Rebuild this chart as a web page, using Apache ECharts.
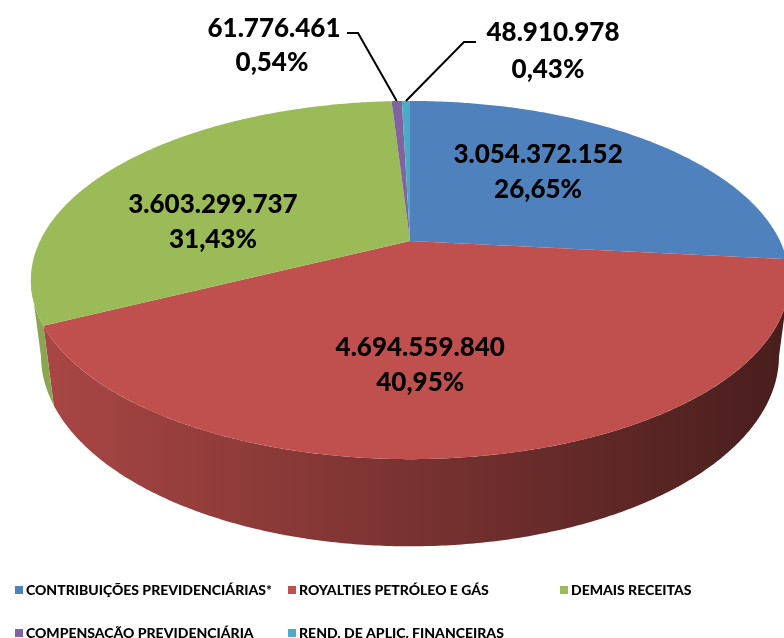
<!DOCTYPE html>
<html>
<head>
<meta charset="utf-8">
<script src="https://cdn.jsdelivr.net/npm/echarts@6/dist/echarts.min.js"></script>
<style>
html,body{margin:0;padding:0;background:#fff;}
#chart{width:784px;height:638px;}
</style>
</head>
<body>
<div id="chart"></div>
<script>
// ---- data ----
const categories = [
  'CONTRIBUIÇÕES PREVIDENCIÁRIAS*',
  'ROYALTIES PETRÓLEO E GÁS',
  'DEMAIS RECEITAS',
  'COMPENSAÇÃO PREVIDENCIÁRIA',
  'REND. DE APLIC. FINANCEIRAS'
];
const values = [3054372152, 4694559840, 3603299737, 61776461, 48910978];
const valueLabels = ['3.054.372.152', '4.694.559.840', '3.603.299.737', '61.776.461', '48.910.978'];
const percentLabels = ['26,65%', '40,95%', '31,43%', '0,54%', '0,43%'];

// ---- style ----
const colors = ['#4F81BD', '#C0504D', '#9BBB59', '#8064A2', '#4BACC6'];
const wallColors = [
  ['#3E6696', '#2A4468'],
  ['#A84644', '#481E1D'],
  ['#8AA650', '#5E7236'],
  ['#654F81', '#45365A'],
  ['#3B889C', '#285C6A']
];
// label placement (offsets in px relative to projected mid-angle point; outside labels use anchors)
const labelOffsets = [[0, -16], [-27, 30], [-45, 21], null, null];
const outsideLabels = {
  3: { text: [274, 29, 272, 63], line: [[347, 33], [358, 33]] },
  4: { text: [553, 33, 548, 70], line: [[476, 42], [464, 42]] }
};

const chart = echarts.init(document.getElementById('chart'));

const cx = 410, cy = 241, f = 1506, D = 4.07;
const s = 0.461, c = Math.sqrt(1 - s * s), h = 0.232;
const total = values.reduce((a, b) => a + b, 0);
const starts = [];
{ let acc = 0; values.forEach(v => { starts.push(acc / total * 360); acc += v; }); }

function proj(phiDeg, r, y) {
  const p = phiDeg * Math.PI / 180;
  const x = r * Math.sin(p), z = -r * Math.cos(p);
  const Yc = y * c - z * s, Zc = y * s + z * c;
  const depth = D - Zc;
  return [cx + f * x / depth, cy - f * Yc / depth];
}
const phiS = Math.acos(-c / D) * 180 / Math.PI;

function arc(a, b, r, y) {
  const pts = [];
  const n = Math.max(2, Math.ceil(Math.abs(b - a) / 0.5));
  for (let i = 0; i <= n; i++) pts.push(proj(a + (b - a) * i / n, r, y));
  return pts;
}

const font = 'Lato, "Open Sans", sans-serif';
const labelFont = '900 26px ' + font;

function renderSlice(i) {
  return function (params, api) {
    const v = api.value(0);
    const a = starts[i], b = a + v / total * 360;
    const children = [];
    // wall
    const wa = Math.max(a, phiS), wb = Math.min(b, 360 - phiS);
    if (wb > wa) {
      const top = arc(wa, wb, 1, 0);
      const bot = arc(wb, wa, 1, -h);
      children.push({
        type: 'polygon', z2: 1,
        shape: { points: top.concat(bot) },
        style: {
          fill: new echarts.graphic.LinearGradient(48, 0, 784, 0, [
            { offset: 0, color: wallColors[i][0] },
            { offset: 1, color: wallColors[i][1] }
          ], true)
        }
      });
    }
    // top face
    children.push({
      type: 'polygon', z2: 10,
      shape: { points: [proj(0, 0, 0)].concat(arc(a, b, 1, 0)) },
      style: { fill: colors[i] }
    });
    // labels
    const mid = (a + b) / 2;
    if (labelOffsets[i]) {
      const p = proj(mid, 0.5, 0);
      const x = p[0] + labelOffsets[i][0], y = p[1] + labelOffsets[i][1];
      children.push({
        type: 'text', z2: 20,
        style: {
          x: x, y: y, text: valueLabels[i] + '\n' + percentLabels[i],
          font: labelFont, fill: '#000', align: 'center', verticalAlign: 'middle',
          lineHeight: 35
        }
      });
    } else {
      const o = outsideLabels[i];
      const rim = proj(mid, 1, 0);
      children.push({
        type: 'polyline', z2: 20,
        shape: { points: [o.line[0], o.line[1], rim] },
        style: { stroke: '#000', lineWidth: 2, fill: null }
      });
      children.push({
        type: 'text', z2: 20,
        style: { x: o.text[0], y: o.text[1], text: valueLabels[i], font: labelFont,
          fill: '#000', align: 'center', verticalAlign: 'middle' }
      });
      children.push({
        type: 'text', z2: 20,
        style: { x: o.text[2], y: o.text[3], text: percentLabels[i], font: labelFont,
          fill: '#000', align: 'center', verticalAlign: 'middle' }
      });
    }
    return { type: 'group', children: children };
  };
}

const legendPos = [[10, 578], [283, 578], [555, 578], [10, 621], [283, 621]];

const option = {
  backgroundColor: '#fff',
  animation: false,
  legend: categories.map((name, i) => ({
    left: legendPos[i][0], top: legendPos[i][1],
    data: [{ name: name, icon: 'rect' }],
    itemWidth: 8, itemHeight: 8, itemGap: 4,
    selectedMode: false,
    textStyle: { fontFamily: font, fontWeight: 900, fontSize: 14, color: '#000', padding: [0, 0, 0, -2] }
  })),
  series: categories.map((name, i) => ({
    type: 'custom',
    name: name,
    coordinateSystem: 'none',
    itemStyle: { color: colors[i] },
    data: [[values[i]]],
    renderItem: renderSlice(i)
  }))
};
chart.setOption(option);
</script>
</body>
</html>
